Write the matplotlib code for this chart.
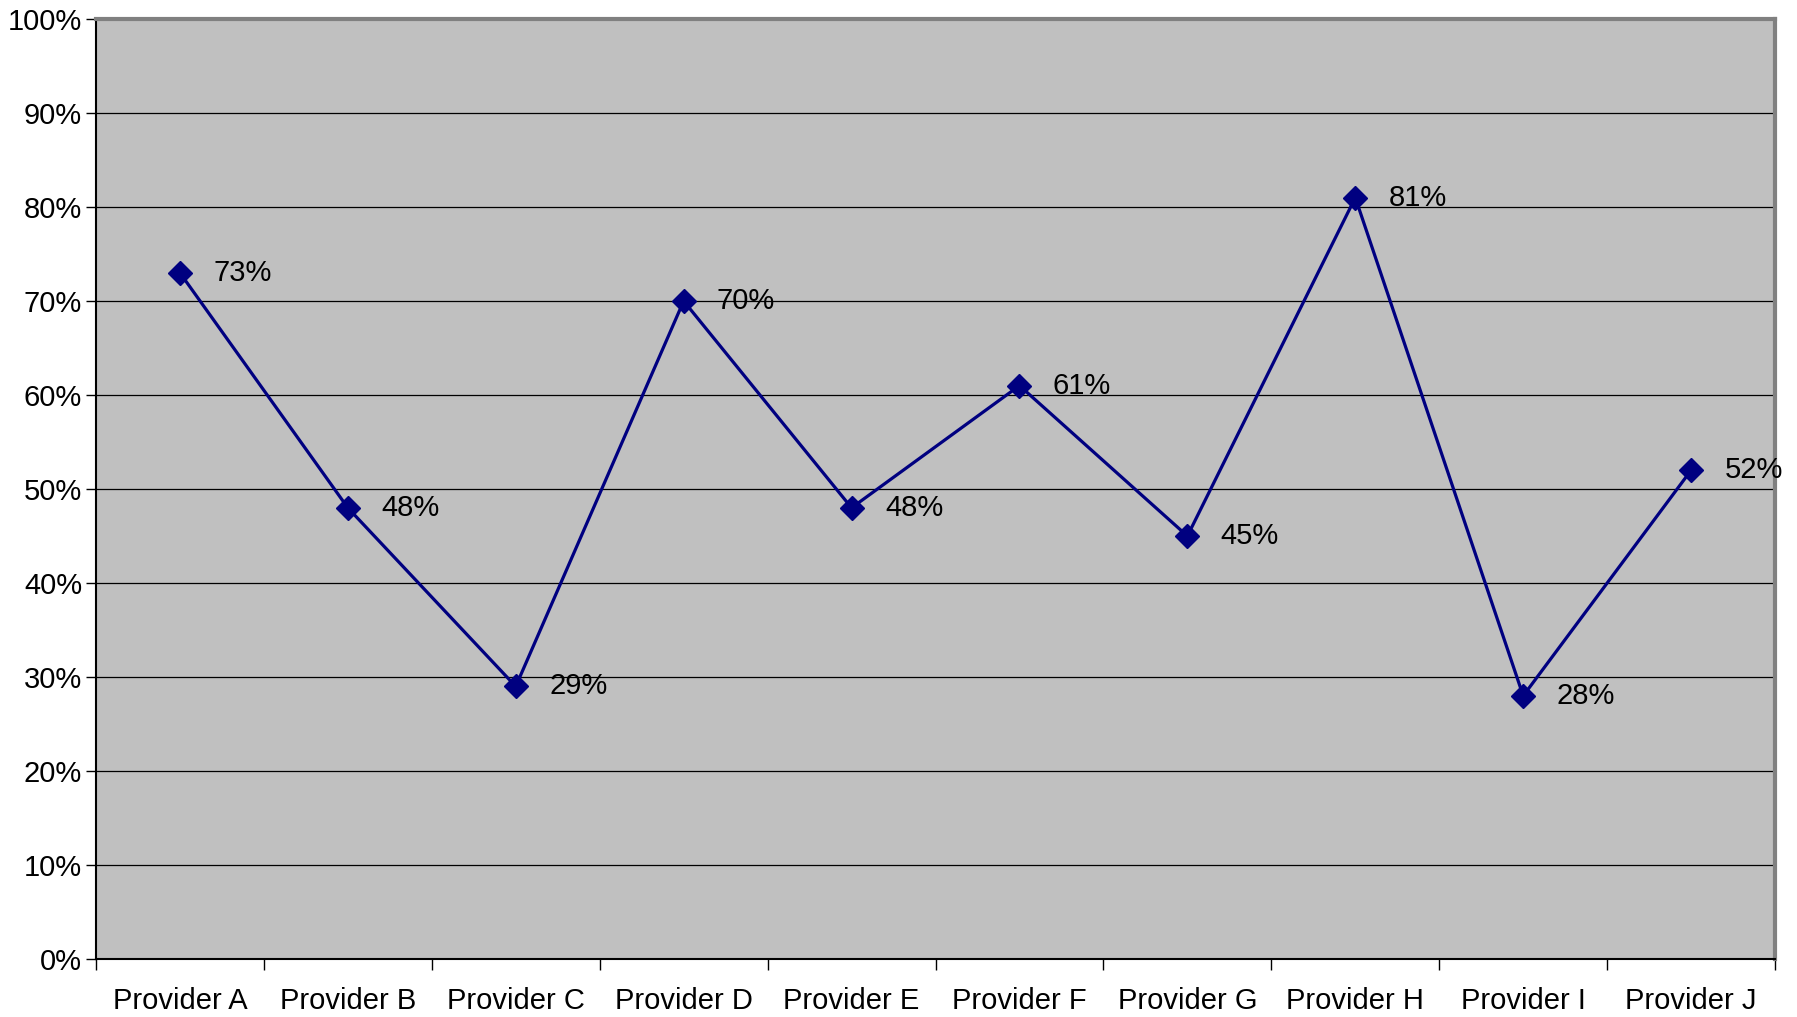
import matplotlib.pyplot as plt
from matplotlib.ticker import FixedLocator, PercentFormatter

plt.rcParams['font.family'] = ['Liberation Sans', 'DejaVu Sans']

providers = ['Provider A', 'Provider B', 'Provider C', 'Provider D', 'Provider E',
             'Provider F', 'Provider G', 'Provider H', 'Provider I', 'Provider J']
values = [73, 48, 29, 70, 48, 61, 45, 81, 28, 52]

fig = plt.figure(figsize=(17.97, 10.17), dpi=100)
ax = fig.add_axes([0.0534, 0.057, 0.9344, 0.9243])
ax.set_facecolor('#C0C0C0')

x = list(range(len(providers)))
ax.plot(x, values, color='#000080', linewidth=2.3, marker='D', markersize=12,
        markerfacecolor='#000080', markeredgecolor='#000080', zorder=3, clip_on=False)

for xi, v in zip(x, values):
    ax.annotate(f'{v}%', (xi, v), xytext=(24, 0), textcoords='offset points',
                ha='left', va='center', fontsize=21, color='black', zorder=4)

ax.set_xlim(-0.5, len(providers) - 0.5)
ax.set_ylim(0, 100)
ax.set_yticks(range(0, 101, 10))
ax.yaxis.set_major_formatter(PercentFormatter(decimals=0))
ax.grid(axis='y', color='#000000', linewidth=0.9)
ax.set_axisbelow(True)

# ticks sit between categories, labels centred on the points
ax.xaxis.set_major_locator(FixedLocator([i - 0.5 for i in range(len(providers) + 1)]))
ax.set_xticklabels([''] * (len(providers) + 1))
ax.set_xticks(x, minor=True)
ax.set_xticklabels(providers, minor=True)
ax.tick_params(axis='x', which='major', direction='out', length=8, width=1, color='#000000')
ax.tick_params(axis='x', which='minor', length=0, pad=20, labelsize=21)
ax.tick_params(axis='y', direction='out', length=7, width=1, labelsize=21, pad=3)

for side in ['left', 'bottom']:
    ax.spines[side].set_color('#000000')
    ax.spines[side].set_linewidth(1.5)
for side in ['top', 'right']:
    ax.spines[side].set_color('#808080')
    ax.spines[side].set_linewidth(3)

fig.savefig('out.png', dpi=100)
